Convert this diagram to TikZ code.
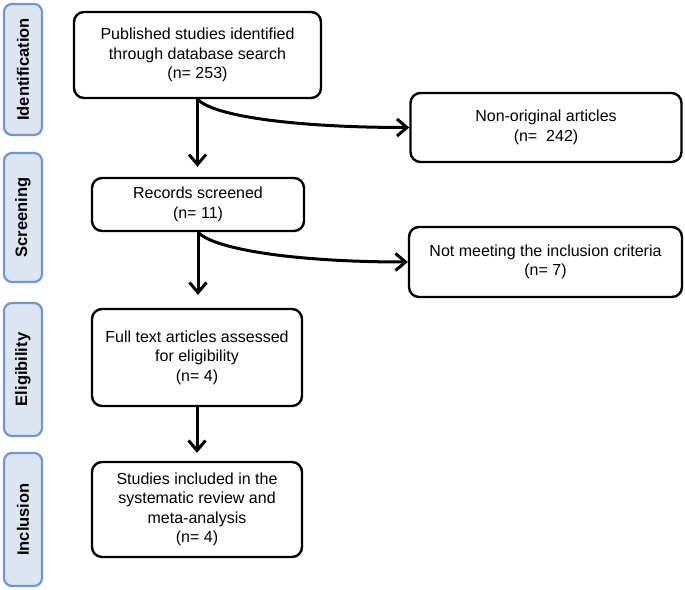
\documentclass[tikz,border=0pt]{standalone}
\usepackage{fontspec}
\setmainfont{Liberation Sans}
\usepackage{tikz}
\usetikzlibrary{arrows.meta,positioning}
\definecolor{tabfill}{HTML}{DCE6F2}
\definecolor{tabline}{HTML}{6F98D0}
\tikzset{stage/.style={draw=tabline,fill=tabfill,line width=2.2pt,rounded corners=8pt,
		minimum height=38pt,inner sep=0pt,rotate=90,font=\fontsize{16.5}{18}\selectfont\bfseries},
	box/.style={draw,line width=2.4pt,rounded corners=10pt,align=center,
		inner sep=2pt,font=\fontsize{16}{19.5}\selectfont},
	flow/.style={line width=3pt,-{Straight Barb[length=10pt,width=17pt]}}}
\begin{document}
\begin{tikzpicture}[x=1pt,y=-1pt]
\useasboundingbox (0,0) rectangle (685,589);
\node [stage,minimum width=131pt] (ident) at (23,69.5) {Identification};
\node [stage,minimum width=129pt] (screen) at (23,217.5) {Screening};
\node [stage,minimum width=133pt] (elig) at (23,369.5) {Eligibility};
\node [stage,minimum width=133pt] (incl) at (23,519.5) {Inclusion};
\node [box,minimum width=247pt,minimum height=86pt] (search) at (197.5,55)
  {Published studies identified\\through database search\\(n= 253)};
\node [box,minimum width=271pt,minimum height=69pt] (nonorig) at (546,127.5)
  {Non-original articles\\(n=~~242)};
\node [box,minimum width=212pt,minimum height=53pt] (screened) at (198,204.5)
  {Records screened\\(n= 11)};
\node [box,minimum width=273pt,minimum height=70pt] (notmeet) at (545.5,262)
  {Not meeting the inclusion criteria\\(n= 7)};
\node [box,minimum width=210pt,minimum height=97pt] (fulltext) at (197,357.5)
  {Full text articles assessed\\for eligibility\\(n= 4)};
\node [box,minimum width=210pt,minimum height=95pt] (included) at (197,509.5)
  {Studies included in the\\systematic review and\\meta-analysis\\(n= 4)};
\draw [flow,shorten >=10pt] (search.south) -- (search.south |- screened.north);
\draw [flow] (search.south) .. controls +(17,18) and +(-108,0) .. (nonorig.west);
\draw [flow,shorten >=13pt] (screened.south) -- (screened.south |- fulltext.north);
\draw [flow] (screened.south) .. controls +(17,18) and +(-108,0) .. (notmeet.west);
\draw [flow,shorten >=8pt] (fulltext.south) -- (fulltext.south |- included.north);
\end{tikzpicture}
\end{document}
